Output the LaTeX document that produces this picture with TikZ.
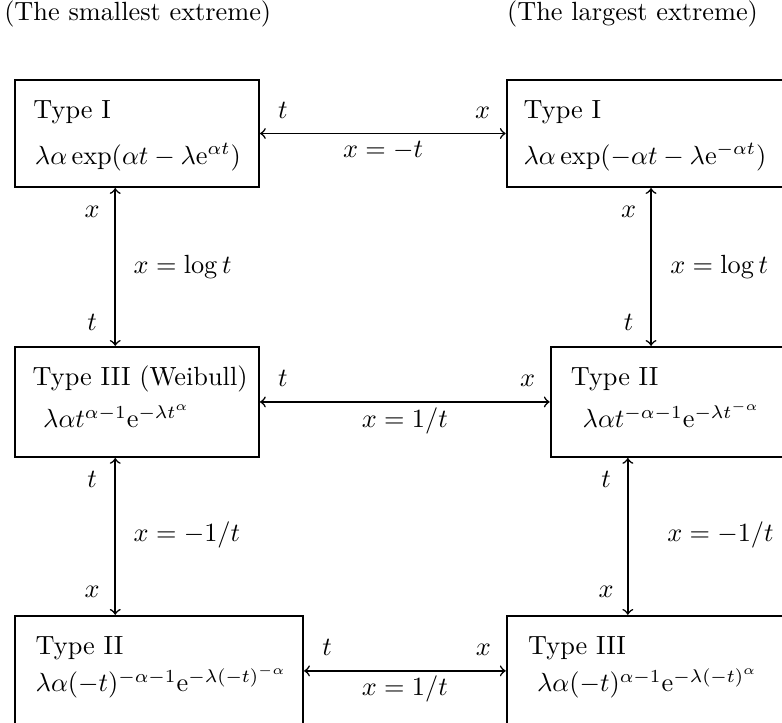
\documentclass[tikz,border=0pt]{standalone}
\usetikzlibrary{positioning}

\begin{document}
\begin{tikzpicture}[
  box/.style={draw, thick, inner sep=0pt},
  txt/.style={inner sep=0pt, anchor=base west},
  lbl/.style={inner sep=0pt, anchor=base}]

% Frame (the boxes run past the lower and right edges)
\useasboundingbox (0,0) rectangle (10.45,9.66);
\clip (0,0) rectangle (10.45,9.66);

% Column headings
\node[txt] (hmin) at (0.05,9.38) {(The smallest extreme)};
\node[txt] (hmax) at (6.77,9.38) {(The largest extreme)};

% Boxes
\node[box, minimum width=3.26cm, minimum height=1.43cm] (smallI) at (1.83,7.876) {};
\node[box, minimum width=4.13cm, minimum height=1.43cm] (largeI) at (8.837,7.876) {};
\node[box, minimum width=3.26cm, minimum height=1.47cm] (smallIII) at (1.83,4.289) {};
\node[box, minimum width=3.54cm, minimum height=1.47cm] (largeII) at (9.13,4.289) {};
\node[box, minimum width=3.85cm, minimum height=1.47cm] (smallII) at (2.124,0.695) {};
\node[box, minimum width=4.13cm, minimum height=1.47cm] (largeIII) at (8.837,0.695) {};

% Box texts
\node[txt] (tI) at (0.44,8.083) {Type I};
\node[txt] (fI) at (0.46,7.468) {$\lambda\alpha\exp(\alpha t-\lambda\mathrm{e}^{\alpha t})$};
\node[txt] (tIb) at (6.99,8.083) {Type I};
\node[txt] (fIb) at (6.99,7.468) {$\lambda\alpha\exp(-\alpha t-\lambda\mathrm{e}^{-\alpha t})$};
\node[txt] (tIII) at (0.43,4.502) {Type III (Weibull)};
\node[txt] (fIII) at (0.57,3.941) {$\lambda\alpha t^{\alpha-1}\mathrm{e}^{-\lambda t^{\alpha}}$};
\node[txt] (tII) at (7.62,4.502) {Type II};
\node[txt] (fII) at (7.78,3.941) {$\lambda\alpha t^{-\alpha-1}\mathrm{e}^{-\lambda t^{-\alpha}}$};
\node[txt] (tIIb) at (0.47,0.908) {Type II};
\node[txt] (fIIb) at (0.47,0.414) {$\lambda\alpha(-t)^{-\alpha-1}\mathrm{e}^{-\lambda(-t)^{-\alpha}}$};
\node[txt] (tIIIb) at (7.05,0.908) {Type III};
\node[txt] (fIIIb) at (7.17,0.414) {$\lambda\alpha(-t)^{\alpha-1}\mathrm{e}^{-\lambda(-t)^{\alpha}}$};

% Columns of the vertical arrows
\coordinate (lx) at (1.54,0);
\coordinate (rxa) at (8.70,0);
\coordinate (rxb) at (8.39,0);

% Arrows
\draw[semithick, <->] (smallI.east) -- (largeI.west);
\draw[semithick, <->] (smallIII.east) -- (largeII.west);
\draw[semithick, <->] (smallII.east) -- (largeIII.west);
\draw[semithick, <->] (smallI.south -| lx) -- (smallIII.north -| lx);
\draw[semithick, <->] (smallIII.south -| lx) -- (smallII.north -| lx);
\draw[semithick, <->] (largeI.south -| rxa) -- (largeII.north -| rxa);
\draw[semithick, <->] (largeII.south -| rxb) -- (largeIII.north -| rxb);

% Labels, top row
\node[lbl] (a1) at (3.78,8.07) {$t$};
\node[lbl] (a2) at (6.45,8.07) {$x$};
\node[lbl] (a3) at (5.12,7.56) {$x=-t$};

% Labels, middle row
\node[lbl] (b1) at (3.78,4.49) {$t$};
\node[lbl] (b2) at (7.05,4.49) {$x$};
\node[lbl] (b3) at (5.41,3.95) {$x=1/t$};

% Labels, bottom row
\node[lbl] (c1) at (4.37,0.90) {$t$};
\node[lbl] (c2) at (6.46,0.90) {$x$};
\node[lbl] (c3) at (5.41,0.37) {$x=1/t$};

% Labels, left column
\node[lbl] (d1) at (1.23,6.76) {$x$};
\node[lbl] (d2) at (1.23,5.25) {$t$};
\node[txt] (d3) at (1.78,6.01) {$x=\log t$};
\node[lbl] (d4) at (1.23,3.15) {$t$};
\node[lbl] (d5) at (1.23,1.68) {$x$};
\node[txt] (d6) at (1.78,2.42) {$x=-1/t$};

% Labels, right column
\node[lbl] (e1) at (8.40,6.76) {$x$};
\node[lbl] (e2) at (8.40,5.25) {$t$};
\node[txt] (e3) at (8.95,6.01) {$x=\log t$};
\node[lbl] (e4) at (8.10,3.15) {$t$};
\node[lbl] (e5) at (8.10,1.68) {$x$};
\node[txt] (e6) at (8.91,2.42) {$x=-1/t$};

\end{tikzpicture}
\end{document}
